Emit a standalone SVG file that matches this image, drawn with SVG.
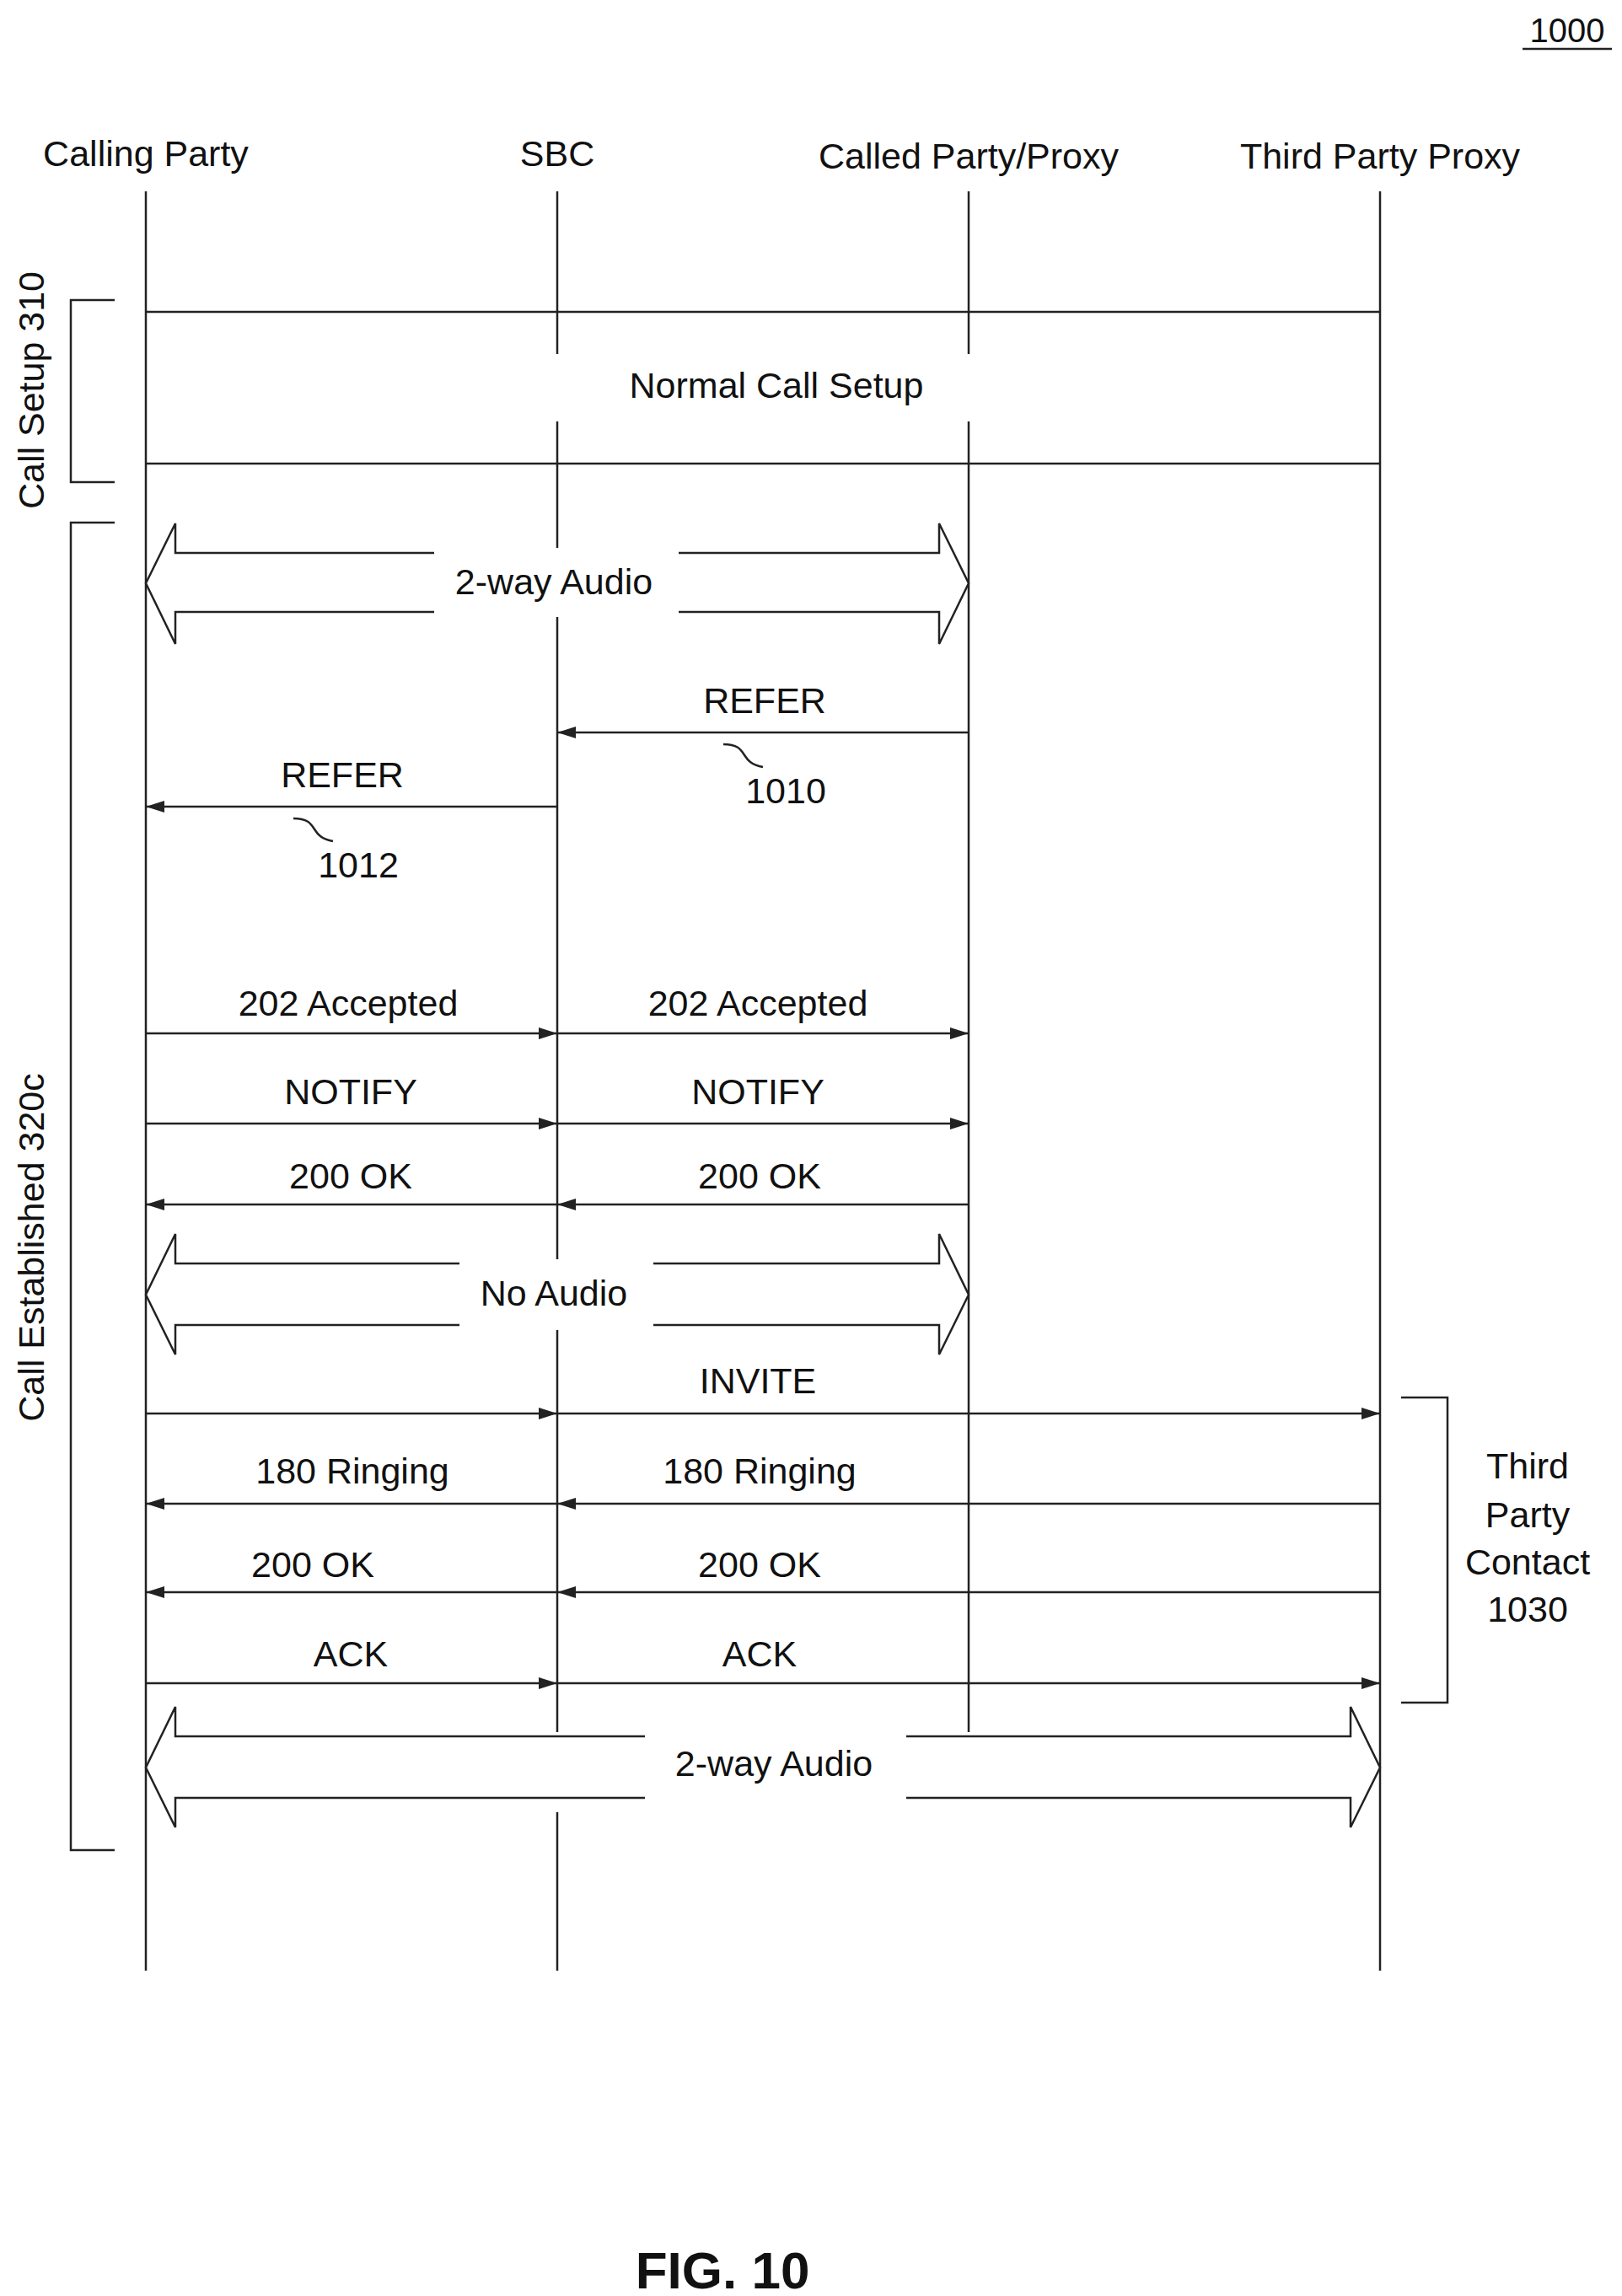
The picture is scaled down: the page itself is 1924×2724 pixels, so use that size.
<svg xmlns="http://www.w3.org/2000/svg" width="1924" height="2724" viewBox="0 0 1924 2724">
<style>
text{font-family:"Liberation Sans",Arial,sans-serif;font-size:43px;fill:#111;text-anchor:middle}
.l{stroke:#222;stroke-width:2.5;fill:none}
.m{stroke:#222;stroke-width:2.5;fill:none;marker-end:url(#ah)}
.blk{stroke:#222;stroke-width:2.5;fill:#fff}
</style>
<defs><marker id="ah" markerWidth="22" markerHeight="14" refX="22" refY="7" orient="auto" markerUnits="userSpaceOnUse" viewBox="0 0 22 14"><path d="M0,0 L22,7 L0,14 z" fill="#222"/></marker></defs>
<rect width="1924" height="2724" fill="#fff"/>
<g id="headers">
<text x="1859" y="50" style="font-size:40px">1000</text><line class="l" x1="1806" y1="58" x2="1912" y2="58"/>
<text x="173" y="197">Calling Party</text>
<text x="661" y="197">SBC</text>
<text x="1149" y="200">Called Party/Proxy</text>
<text x="1637" y="200">Third Party Proxy</text>
</g>
<g id="lifelines">
<line class="l" x1="173" y1="227" x2="173" y2="2338"/>
<line class="l" x1="661" y1="227" x2="661" y2="420"/><line class="l" x1="661" y1="500" x2="661" y2="2055"/><line class="l" x1="661" y1="2150" x2="661" y2="2338"/>
<line class="l" x1="1149" y1="227" x2="1149" y2="420"/><line class="l" x1="1149" y1="500" x2="1149" y2="2055"/>
<line class="l" x1="1637" y1="227" x2="1637" y2="2338"/>
</g>
<g id="setup">
<line class="l" x1="173" y1="370" x2="1637" y2="370"/>
<line class="l" x1="173" y1="550" x2="1637" y2="550"/>
<text x="921" y="472">Normal Call Setup</text>
<polyline class="l" points="136,356 84,356 84,572 136,572"/>
<text transform="translate(52,463) rotate(-90)">Call Setup 310</text>
<polyline class="l" points="136,620 84,620 84,2195 136,2195"/>
<text transform="translate(52,1480) rotate(-90)">Call Established 320c</text>
</g>
<g id="audio1">
<polygon class="blk" points="173,692 208,621 208,656 1114,656 1114,621 1149,692 1114,764 1114,726 208,726 208,764"/>
<rect x="515" y="650" width="290" height="82" fill="#fff"/>
<text x="657" y="705">2-way Audio</text>
</g>
<g id="noaudio">
<polygon class="blk" points="173,1536 208,1464 208,1499 1114,1499 1114,1464 1149,1536 1114,1607 1114,1572 208,1572 208,1607"/>
<rect x="545" y="1494" width="230" height="84" fill="#fff"/>
<text x="657" y="1549">No Audio</text>
</g>
<g id="audio2">
<polygon class="blk" points="173,2097 208,2025 208,2060 1602,2060 1602,2025 1637,2097 1602,2168 1602,2133 208,2133 208,2168"/>
<rect x="765" y="2054" width="310" height="84" fill="#fff"/>
<text x="918" y="2107">2-way Audio</text>
</g>
<g id="connectors">
<line class="m" x1="1149" y1="869" x2="661" y2="869"/>
<line class="m" x1="661" y1="957" x2="173" y2="957"/>
<path class="l" d="M858,883 C890,883 875,905 905,910"/>
<path class="l" d="M348,971 C380,971 365,993 395,998"/>
<line class="m" x1="173" y1="1226" x2="661" y2="1226"/><line class="m" x1="661" y1="1226" x2="1149" y2="1226"/>
<line class="m" x1="173" y1="1333" x2="661" y2="1333"/><line class="m" x1="661" y1="1333" x2="1149" y2="1333"/>
<line class="m" x1="1149" y1="1429" x2="661" y2="1429"/><line class="m" x1="661" y1="1429" x2="173" y2="1429"/>
<line class="m" x1="173" y1="1677" x2="661" y2="1677"/><line class="m" x1="661" y1="1677" x2="1637" y2="1677"/>
<line class="m" x1="1637" y1="1784" x2="661" y2="1784"/><line class="m" x1="661" y1="1784" x2="173" y2="1784"/>
<line class="m" x1="1637" y1="1889" x2="661" y2="1889"/><line class="m" x1="661" y1="1889" x2="173" y2="1889"/>
<line class="m" x1="173" y1="1997" x2="661" y2="1997"/><line class="m" x1="661" y1="1997" x2="1637" y2="1997"/>
</g>
<g id="labels">
<text x="907" y="846">REFER</text><text x="932" y="953">1010</text>
<text x="406" y="934">REFER</text><text x="425" y="1041">1012</text>
<text x="413" y="1205">202 Accepted</text><text x="899" y="1205">202 Accepted</text>
<text x="416" y="1310">NOTIFY</text><text x="899" y="1310">NOTIFY</text>
<text x="416" y="1410">200 OK</text><text x="901" y="1410">200 OK</text>
<text x="899" y="1653">INVITE</text>
<text x="418" y="1760">180 Ringing</text><text x="901" y="1760">180 Ringing</text>
<text x="371" y="1871">200 OK</text><text x="901" y="1871">200 OK</text>
<text x="416" y="1977">ACK</text><text x="901" y="1977">ACK</text>
</g>
<g id="third">
<polyline class="l" points="1662,1658 1717,1658 1717,2020 1662,2020"/>
<text x="1812" y="1754">Third</text><text x="1812" y="1812">Party</text><text x="1812" y="1868">Contact</text><text x="1812" y="1924">1030</text>
</g>
<text x="857" y="2715" style="font-size:62px;font-weight:bold">FIG. 10</text>
</svg>
